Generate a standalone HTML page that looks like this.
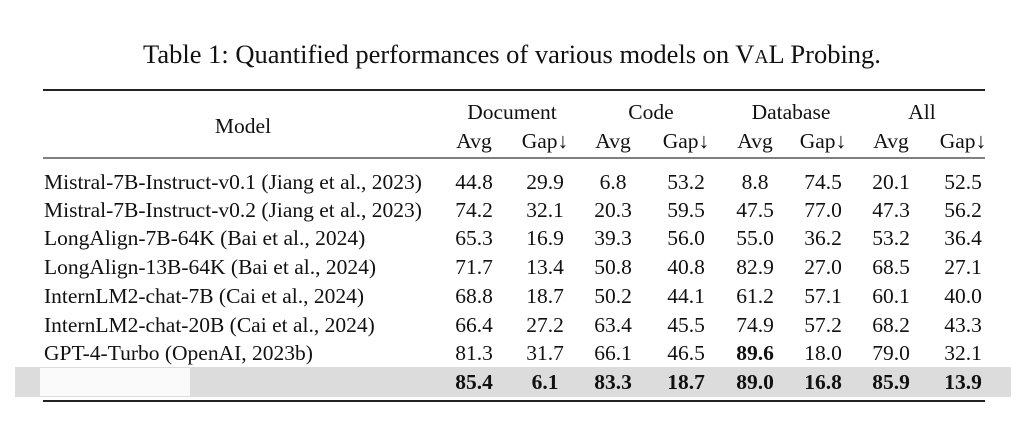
<!DOCTYPE html>
<html><head><meta charset="utf-8"><style>
html,body{margin:0;padding:0;background:#fff;}
svg{display:block;font-family:"Liberation Serif",serif;}
</style></head><body>
<svg width="1024" height="427" viewBox="0 0 1024 427" xmlns="http://www.w3.org/2000/svg">
<text x="512" y="63" font-size="26.5" text-anchor="middle" fill="#111">Table 1: Quantified performances of various models on V<tspan font-size="19.5">A</tspan>L Probing.</text>
<rect x="15" y="367" width="996" height="30" fill="#dcdcdc"/>
<rect x="40" y="368" width="150" height="28" fill="#fafafa"/>
<line x1="43" y1="90" x2="985" y2="90" stroke="#222" stroke-width="2"/>
<line x1="43" y1="158" x2="985" y2="158" stroke="#333" stroke-width="1.2"/>
<line x1="43" y1="401" x2="985" y2="401" stroke="#222" stroke-width="2"/>
<g id="hdr" font-size="21.5" fill="#111" text-anchor="middle"></g>
<g id="body" font-size="21.5" fill="#111"></g>
</svg>
<script>
const groups=["Document","Code","Database","All"];
const models=["Mistral-7B-Instruct-v0.1 (Jiang et al., 2023)","Mistral-7B-Instruct-v0.2 (Jiang et al., 2023)","LongAlign-7B-64K (Bai et al., 2024)","LongAlign-13B-64K (Bai et al., 2024)","InternLM2-chat-7B (Cai et al., 2024)","InternLM2-chat-20B (Cai et al., 2024)","GPT-4-Turbo (OpenAI, 2023b)",""];
const values=[
["44.8","29.9","6.8","53.2","8.8","74.5","20.1","52.5"],
["74.2","32.1","20.3","59.5","47.5","77.0","47.3","56.2"],
["65.3","16.9","39.3","56.0","55.0","36.2","53.2","36.4"],
["71.7","13.4","50.8","40.8","82.9","27.0","68.5","27.1"],
["68.8","18.7","50.2","44.1","61.2","57.1","60.1","40.0"],
["66.4","27.2","63.4","45.5","74.9","57.2","68.2","43.3"],
["81.3","31.7","66.1","46.5","89.6","18.0","79.0","32.1"],
["85.4","6.1","83.3","18.7","89.0","16.8","85.9","13.9"]];
const ns="http://www.w3.org/2000/svg";
const colX=[474,545,613,686,755,823,891,963];
const grpX=[512,651,791,922];
const rowY=[189,217,245,274,303,332,360,389];
function t(parent,x,y,s){const e=document.createElementNS(ns,"text");e.setAttribute("x",x);e.setAttribute("y",y);e.textContent=s;parent.appendChild(e);return e;}
const hdr=document.getElementById("hdr"),body=document.getElementById("body");
let e=t(hdr,243,133,"Model");


groups.forEach((g,i)=>{const h=t(hdr,grpX[i],119,g);


const a=t(hdr,colX[2*i],148,"Avg");


const b=t(hdr,colX[2*i+1],148,"Gap\u2193");

});
models.forEach((m,r)=>{
 if(m){const n=t(body,44,rowY[r],m);
 
 }
 values[r].forEach((v,c)=>{const c1=t(body,colX[c],rowY[r],v);
 c1.setAttribute('text-anchor','middle');
 if(r===7||(r===6&&c===4))c1.setAttribute('font-weight','bold');
 
 });
});
</script>
</body></html>
